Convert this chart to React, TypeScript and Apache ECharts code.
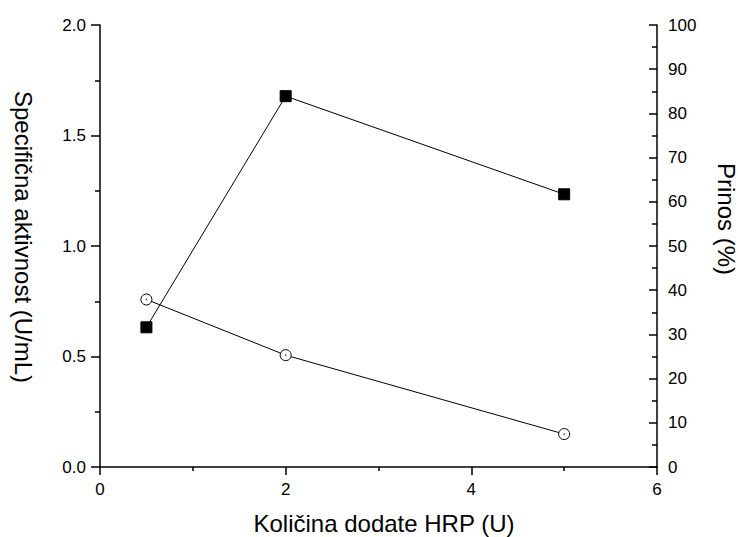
import React, { useEffect, useRef } from "react";
import * as echarts from "echarts";

const xValues = [0.5, 2, 5];
const activity = [0.758, 0.506, 0.149]; // left axis, open circles
const yieldPct = [31.6, 83.9, 61.7]; // right axis, filled squares

const xTitle = "Količina dodate HRP (U)";
const leftTitle = "Specifična aktivnost (U/mL)";
const rightTitle = "Prinos (%)";

const FONT = '"Liberation Sans", Arial, sans-serif';

export default function App() {
  const ref = useRef<HTMLDivElement>(null);
  useEffect(() => {
    if (!ref.current) return;
    const chart = echarts.init(ref.current, undefined, { renderer: "svg" });
    const axisLine = { show: true, lineStyle: { color: "#000", width: 1.5 } };
    const label = { color: "#000", fontSize: 17, fontFamily: FONT };
    const circleData = xValues.map((x, i) => [x, activity[i]]);
    const squareData = xValues.map((x, i) => [x, yieldPct[i]]);
    chart.setOption({
      animation: false,
      backgroundColor: "#fff",
      grid: { left: 100, right: 81, top: 25, bottom: 70, containLabel: false },
      xAxis: {
        type: "value",
        min: 0,
        max: 6,
        interval: 2,
        axisLine: { ...axisLine, onZero: false },
        axisTick: { show: true, inside: false, length: 8, lineStyle: { color: "#000", width: 1.5 } },
        minorTick: { show: true, splitNumber: 2, length: 4, lineStyle: { color: "#000", width: 1.5 } },
        axisLabel: { ...label, margin: 14 },
        splitLine: { show: false },
      },
      yAxis: [
        {
          type: "value",
          position: "left",
          min: 0,
          max: 2,
          interval: 0.5,
          axisLine: { ...axisLine, onZero: false },
          axisTick: { show: true, inside: false, length: 9, lineStyle: { color: "#000", width: 1.5 } },
          minorTick: { show: true, splitNumber: 2, length: 5, lineStyle: { color: "#000", width: 1.5 } },
          axisLabel: { ...label, margin: 14, formatter: (v: number) => v.toFixed(1) },
          splitLine: { show: false },
        },
        {
          type: "value",
          position: "right",
          min: 0,
          max: 100,
          interval: 10,
          axisLine: { ...axisLine, onZero: false },
          axisTick: { show: true, inside: true, length: 8, lineStyle: { color: "#000", width: 1.5 } },
          minorTick: { show: true, splitNumber: 2, length: 5, lineStyle: { color: "#000", width: 1.5 } },
          axisLabel: { ...label, margin: 11 },
          splitLine: { show: false },
        },
      ],
      series: [
        {
          type: "line",
          yAxisIndex: 1,
          data: squareData,
          symbol: "rect",
          symbolSize: 11,
          lineStyle: { color: "#000", width: 1 },
          itemStyle: { color: "#000", borderColor: "#000" },
          z: 3,
        },
        {
          type: "line",
          yAxisIndex: 0,
          data: circleData,
          symbol: "circle",
          symbolSize: 11,
          lineStyle: { color: "#000", width: 1 },
          itemStyle: { color: "#fff", borderColor: "#000", borderWidth: 1 },
          z: 3,
        },
        {
          type: "scatter",
          yAxisIndex: 0,
          data: circleData,
          symbol: "circle",
          symbolSize: 1.5,
          itemStyle: { color: "#000" },
          z: 4,
        },
      ],
      graphic: [
        {
          type: "text",
          x: 384,
          y: 523,
          style: {
            text: xTitle,
            font: `24px ${FONT}`,
            fill: "#000",
            textAlign: "center",
            textVerticalAlign: "middle",
            align: "center",
            verticalAlign: "middle",
          },
        },
        {
          type: "text",
          x: 23,
          y: 237,
          rotation: -Math.PI / 2,
          style: {
            text: leftTitle,
            font: `24px ${FONT}`,
            fill: "#000",
            textAlign: "center",
            textVerticalAlign: "middle",
            align: "center",
            verticalAlign: "middle",
          },
        },
        {
          type: "text",
          x: 726,
          y: 219,
          rotation: -Math.PI / 2,
          style: {
            text: rightTitle,
            font: `24px ${FONT}`,
            fill: "#000",
            textAlign: "center",
            textVerticalAlign: "middle",
            align: "center",
            verticalAlign: "middle",
          },
        },
      ],
    });
    return () => chart.dispose();
  }, []);
  return (
    <div
      ref={ref}
      style={{ position: "absolute", left: 0, top: 0, width: 738, height: 537 }}
    />
  );
}
